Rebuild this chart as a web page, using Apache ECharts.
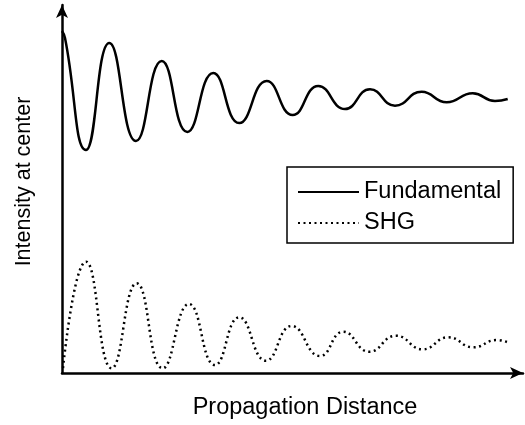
<!DOCTYPE html>
<html>
<head>
<meta charset="utf-8">
<script src="https://cdn.jsdelivr.net/npm/echarts@6/dist/echarts.min.js"></script>
<style>html,body{margin:0;padding:0;background:#fff}#c{width:525px;height:425px}</style>
</head>
<body>
<div id="c"></div>
<script>
// Propagation distance (arbitrary units) and intensities
const fundX = [0, 0.3, 2.4, 4.73, 7.4, 9.97, 12.53, 15.13, 17.73, 20.47, 23.07, 25.63, 28.3, 30.8, 33.3, 35.97, 38.47, 41.07, 43.3, 44.57];
const fundY = [34.2, 33.5, 22.3, 33.0, 23.2, 31.2, 24.1, 30.0, 25.0, 29.2, 25.8, 28.7, 26.4, 28.37, 26.73, 28.13, 27.07, 27.97, 27.2, 27.4];
const shgX = [0.1, 2.4, 4.97, 7.47, 10.07, 12.7, 15.3, 17.73, 20.4, 22.97, 25.8, 28.13, 30.73, 33.4, 36.07, 38.63, 41.13, 43.47, 44.57];
const shgY = [0.5, 11.13, 0.47, 8.97, 0.47, 6.9, 0.8, 5.57, 1.23, 4.7, 1.7, 4.13, 2.13, 3.73, 2.37, 3.57, 2.57, 3.3, 3.07];
const seriesNames = ['Fundamental', 'SHG'];
const xTitle = 'Propagation Distance';
const yTitle = 'Intensity at center';

const FONT = 'Liberation Sans, Arial, sans-serif';
const chart = echarts.init(document.getElementById('c'), null, {renderer: 'canvas'});
const zip = (xs, ys) => xs.map((x, i) => [x, ys[i]]);
chart.setOption({
  animation: false,
  backgroundColor: '#fff',
  grid: {left: 62, right: 2, top: 5, bottom: 52, containLabel: false},
  xAxis: {
    type: 'value', min: 0, max: 46.1,
    name: xTitle, nameLocation: 'middle', nameGap: 23,
    nameTextStyle: {fontFamily: FONT, fontSize: 23.5, color: '#000', padding: [0, 0, 0, 25]},
    axisLine: {lineStyle: {color: '#000', width: 2.5}, symbol: ['none', 'arrow'], symbolSize: [9, 13]},
    axisTick: {show: false}, axisLabel: {show: false}, splitLine: {show: false}
  },
  yAxis: {
    type: 'value', min: 0, max: 36.8,
    name: yTitle, nameLocation: 'middle', nameGap: 27, nameRotate: 90,
    nameTextStyle: {fontFamily: FONT, fontSize: 21.5, color: '#000', padding: [0, 0, 0, 15]},
    axisLine: {lineStyle: {color: '#000', width: 2.5}, symbol: ['none', 'arrow'], symbolSize: [9, 13]},
    axisTick: {show: false}, axisLabel: {show: false}, splitLine: {show: false}
  },
  legend: {
    orient: 'vertical', left: 287, top: 167,
    padding: [13, 12, 8, 10],
    borderColor: '#000', borderWidth: 1.5,
    itemWidth: 61, itemHeight: 22, itemGap: 7,
    itemStyle: {opacity: 0},
    textStyle: {fontFamily: FONT, fontSize: 23.5, color: '#000'},
    data: seriesNames
  },
  series: [
    {
      name: seriesNames[0], type: 'line', symbol: 'none', smooth: true,
      data: zip(fundX, fundY),
      lineStyle: {color: '#000', width: 2.5}, itemStyle: {color: '#000'}
    },
    {
      name: seriesNames[1], type: 'line', symbol: 'none', smooth: true,
      data: zip(shgX, shgY),
      lineStyle: {color: '#000', width: 2.5, type: [2, 3.5]}, itemStyle: {color: '#000'}
    }
  ]
});
</script>
</body>
</html>
